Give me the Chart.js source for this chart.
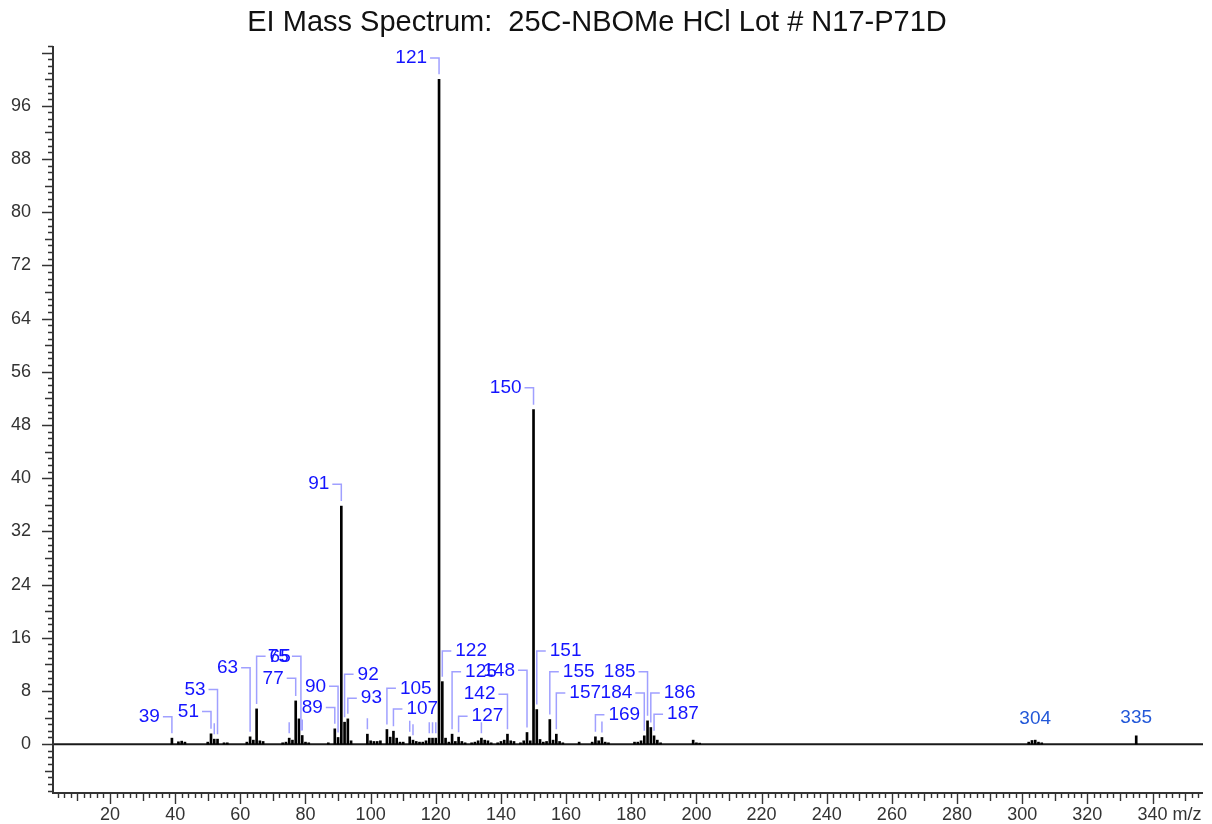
<!DOCTYPE html>
<html><head><meta charset="utf-8">
<script src="https://cdn.jsdelivr.net/npm/chart.js@4.4.0/dist/chart.umd.min.js"></script>
<style>html,body{margin:0;padding:0;background:#fff;overflow:hidden}canvas{display:block}</style>
</head><body>
<canvas id="c" width="1212" height="824"></canvas>
<script>
// ---------- data ----------
const chartTitle = "EI Mass Spectrum:  25C-NBOMe HCl Lot # N17-P71D";
const mzValues = [39,41,42,43,50,51,52,53,55,56,62,63,64,65,66,67,73,74,75,76,77,78,79,80,81,87,89,90,91,92,93,94,
  99,100,101,102,103,105,106,107,108,109,110,112,113,114,115,116,117,118,119,120,121,122,123,124,125,126,127,128,129,
  131,132,133,134,135,136,137,139,140,141,142,143,144,146,147,148,149,150,151,152,153,154,155,156,157,158,159,164,
  168,169,170,171,172,173,181,182,183,184,185,186,187,188,189,199,200,201,302,303,304,305,306,335];
const intensities = [0.9,0.35,0.45,0.3,0.3,1.55,0.75,0.75,0.2,0.2,0.3,1.1,0.6,5.3,0.5,0.4,0.2,0.3,0.9,0.6,6.5,3.8,1.3,0.3,0.2,0.2,2.3,1.0,35.8,3.3,3.8,0.5,
  1.5,0.5,0.4,0.4,0.5,2.2,1.05,1.95,0.9,0.3,0.3,1.1,0.6,0.4,0.3,0.3,0.5,0.9,0.9,0.9,100,9.4,0.9,0.3,1.5,0.4,1.05,0.4,0.2,
  0.2,0.3,0.5,0.9,0.6,0.5,0.2,0.2,0.4,0.6,1.5,0.5,0.4,0.2,0.5,1.75,0.5,50.3,5.2,0.7,0.3,0.4,3.7,0.6,1.5,0.4,0.2,0.3,
  0.3,1.1,0.5,1.0,0.3,0.2,0.3,0.3,0.5,1.25,3.5,2.5,1.25,0.6,0.2,0.6,0.2,0.15,0.3,0.55,0.6,0.3,0.2,1.25];
const xTickLabels = [20,40,60,80,100,120,140,160,180,200,220,240,260,280,300,320,340];
const yTickLabels = [0,8,16,24,32,40,48,56,64,72,80,88,96];
const xUnitLabel = "m/z";
const labeledMz = [39,51,53,63,65,75,77,89,90,91,92,93,105,107,121,122,125,127,142,148,150,151,155,157,169,184,185,186,187,304,335];

// ---------- annotation layout (separate from data) ----------
const labelLevels = [4.1,4.9,8.2,11.5,13.2,13.2,9.9,5.5,8.7,39.1,10.5,6.9,8.4,5.3,103.2,14.0,10.9,4.2,7.5,11.1,53.6,14.0,10.9,7.7,4.4,7.7,10.9,7.7,4.5,3.8,3.9];
const labelSides  = ['L','L','L','L','R','L','L','L','L','L','R','R','R','R','L','R','R','R','L','L','L','R','R','R','R','L','L','R','R','C','C'];
const labelAnchorShift = {75: 78.6};
const markerMz = [52,75,79,99,112,113,118,119,120,134,171];

const FONT = '"Liberation Sans", Arial, Helvetica, sans-serif';
const intensityOf = {};
mzValues.forEach((m,i)=>{ intensityOf[m] = intensities[i]; });

const decor = {
  id: 'decor',
  beforeDatasetsDraw(chart) {
    const {ctx, chartArea: a, scales: {x: xs, y: ys}} = chart;
    ctx.save();
    // title
    ctx.fillStyle = '#111';
    ctx.font = '29px ' + FONT;
    ctx.textAlign = 'center';
    ctx.textBaseline = 'alphabetic';
    ctx.fillText(chartTitle, 597, 31);
    // zero line
    const y0 = ys.getPixelForValue(0);
    ctx.strokeStyle = '#1a1a1a';
    ctx.lineWidth = 2;
    ctx.beginPath(); ctx.moveTo(a.left, y0); ctx.lineTo(a.right, y0); ctx.stroke();
    // axes
    ctx.strokeStyle = '#333';
    ctx.lineWidth = 2;
    ctx.beginPath(); ctx.moveTo(a.left, a.top); ctx.lineTo(a.left, a.bottom + 1); ctx.lineTo(a.right, a.bottom + 1); ctx.stroke();
    // y ticks
    ctx.lineWidth = 1.4;
    ctx.beginPath();
    for (let v = Math.ceil(ys.min); v <= Math.floor(ys.max); v++) {
      const py = Math.round(ys.getPixelForValue(v)) + 0.5;
      const len = v % 8 === 0 ? 11 : (v % 4 === 0 ? 8 : 5);
      ctx.moveTo(a.left - len, py); ctx.lineTo(a.left, py);
    }
    ctx.stroke();
    // x ticks
    ctx.beginPath();
    for (let v = 4; v <= xs.max; v += 2) {
      const px = Math.round(xs.getPixelForValue(v)) + 0.5;
      const len = v % 20 === 0 ? 11 : (v % 10 === 0 ? 8 : 5);
      ctx.moveTo(px, a.bottom + 1); ctx.lineTo(px, a.bottom + 1 + len);
    }
    ctx.stroke();
    // tick labels
    ctx.fillStyle = '#333';
    ctx.font = '18px ' + FONT;
    ctx.textBaseline = 'middle';
    ctx.textAlign = 'right';
    yTickLabels.forEach(v => ctx.fillText(String(v), a.left - 22, ys.getPixelForValue(v)));
    ctx.textAlign = 'center';
    xTickLabels.forEach(v => ctx.fillText(String(v), xs.getPixelForValue(v), a.bottom + 23));
    ctx.textAlign = 'left';
    ctx.fillText(xUnitLabel, xs.getPixelForValue(340) + 20, a.bottom + 23);
    ctx.restore();
  },
  afterDatasetsDraw(chart) {
    const {ctx, scales: {x: xs, y: ys}} = chart;
    ctx.save();
    ctx.font = '19px ' + FONT;
    ctx.textBaseline = 'middle';
    ctx.lineWidth = 1.5;
    ctx.strokeStyle = '#a0a0ff';
    // short markers above unlabeled peaks
    ctx.beginPath();
    markerMz.forEach(m => {
      const px = xs.getPixelForValue(m);
      const top = ys.getPixelForValue(intensityOf[m]);
      ctx.moveTo(px, top - 5); ctx.lineTo(px, top - 16);
    });
    ctx.stroke();
    labeledMz.forEach((m, i) => {
      const side = labelSides[i];
      const anchor = labelAnchorShift[m] !== undefined ? labelAnchorShift[m] : m;
      const px = xs.getPixelForValue(anchor);
      const h = intensityOf[Math.round(anchor)] !== undefined ? intensityOf[Math.round(anchor)] : intensityOf[m];
      const top = ys.getPixelForValue(h);
      const ty = ys.getPixelForValue(labelLevels[i]);
      const txt = String(m);
      if (side === 'C') {
        ctx.fillStyle = '#2358d8';
        ctx.textAlign = 'center';
        ctx.fillText(txt, px, ty);
        return;
      }
      ctx.strokeStyle = '#a0a0ff';
      ctx.beginPath();
      if (side === 'L') {
        ctx.moveTo(px - 9, ty); ctx.lineTo(px, ty); ctx.lineTo(px, top - 5);
      } else {
        ctx.moveTo(px, top - 5); ctx.lineTo(px, ty); ctx.lineTo(px + 9, ty);
      }
      ctx.stroke();
      ctx.fillStyle = '#1414ff';
      if (side === 'L') { ctx.textAlign = 'right'; ctx.fillText(txt, px - 12, ty); }
      else { ctx.textAlign = 'left'; ctx.fillText(txt, px + 13, ty); }
    });
    ctx.restore();
  }
};

new Chart(document.getElementById('c'), {
  type: 'bar',
  data: {
    datasets: [{
      data: mzValues.map((m, i) => ({x: m, y: intensities[i]})),
      backgroundColor: '#000',
      borderWidth: 0,
      barThickness: 2
    }]
  },
  options: {
    responsive: false,
    animation: false,
    devicePixelRatio: 1,
    events: [],
    layout: {padding: {top: 46, right: 9, left: 0, bottom: 0}},
    plugins: {legend: {display: false}, tooltip: {enabled: false}, title: {display: false}},
    scales: {
      x: {type: 'linear', min: 2.5, max: 355.5, offset: false,
          ticks: {display: false}, grid: {display: false}, border: {display: false},
          afterFit(s) { s.height = 32; }},
      y: {type: 'linear', min: -7.2, max: 105,
          ticks: {display: false}, grid: {display: false}, border: {display: false},
          afterFit(s) { s.width = 53; }}
    }
  },
  plugins: [decor]
});
</script>
</body></html>
